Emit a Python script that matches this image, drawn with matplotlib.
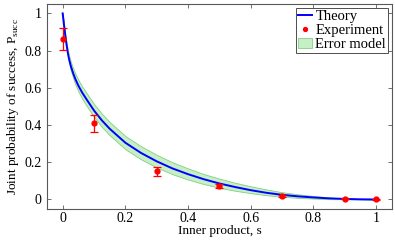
import matplotlib
matplotlib.use("Agg")
import matplotlib.pyplot as plt

# theory curve
s_theory = [0.0, 0.004, 0.008, 0.012, 0.016, 0.02, 0.026, 0.033, 0.041, 0.05, 0.062, 0.075,
            0.1, 0.125, 0.15, 0.2, 0.25, 0.3, 0.35, 0.4, 0.45, 0.5, 0.55, 0.6, 0.65,
            0.7, 0.75, 0.8, 0.85, 0.9, 0.95, 1.0]
p_theory = [1.0, 0.94, 0.885, 0.835, 0.792, 0.757, 0.717, 0.68, 0.645, 0.612, 0.575, 0.541,
            0.478, 0.425, 0.38, 0.305, 0.25, 0.205, 0.167, 0.136, 0.109, 0.086, 0.067,
            0.05, 0.036, 0.025, 0.017, 0.011, 0.006, 0.003, 0.001, 0.0]

# error model band (lower / upper edge)
p_band_lo = [1.0, 0.937, 0.877, 0.822, 0.775, 0.737, 0.694, 0.654, 0.616, 0.581, 0.542, 0.507,
             0.444, 0.39, 0.345, 0.27, 0.216, 0.172, 0.136, 0.107, 0.083, 0.063, 0.047,
             0.034, 0.023, 0.015, 0.009, 0.005, 0.002, 0.001, 0.0, 0.0]
p_band_hi = [1.0, 0.943, 0.893, 0.848, 0.809, 0.777, 0.740, 0.706, 0.674, 0.643, 0.608, 0.575,
             0.513, 0.461, 0.416, 0.341, 0.286, 0.240, 0.200, 0.167, 0.137, 0.112, 0.090,
             0.071, 0.054, 0.039, 0.028, 0.019, 0.011, 0.006, 0.002, 0.0]

# experiment
s_exp = [0.0, 0.1, 0.3, 0.5, 0.7, 0.9, 1.0]
p_exp = [0.863, 0.41, 0.152, 0.073, 0.018, 0.004, 0.0]
p_err = [0.06, 0.045, 0.024, 0.012, 0.005, 0.004, 0.004]

plt.rcParams["font.family"] = ["Liberation Serif", "DejaVu Serif"]
plt.rcParams["font.size"] = 8.5

fig = plt.figure(figsize=(3.95, 2.4), dpi=100)
ax = fig.add_axes([0.119, 0.13, 0.873, 0.853])

band = ax.fill_between(s_theory, p_band_lo, p_band_hi, facecolor="#c6efc6",
                       edgecolor="#80d080", linewidth=0.6, label="Error model")
line, = ax.plot(s_theory, p_theory, color="#0000ff", linewidth=1.4, label="Theory")
ax.errorbar(s_exp, p_exp, yerr=p_err, fmt="none", ecolor="#ff0000",
            elinewidth=0.9, capsize=3, capthick=0.9)
pts, = ax.plot(s_exp, p_exp, "o", color="#ff0000", markersize=3.5,
               linestyle="none", label="Experiment")

ax.set_xlim(-0.05, 1.05)
ax.set_ylim(-0.05, 1.05)
ax.set_xticks([0, 0.2, 0.4, 0.6, 0.8, 1])
ax.set_xticklabels(["0", "0.2", "0.4", "0.6", "0.8", "1"])
ax.set_yticks([0, 0.2, 0.4, 0.6, 0.8, 1])
ax.set_yticklabels(["0", "0.2", "0.4", "0.6", "0.8", "1"])
ax.tick_params(direction="in", top=True, right=True, length=3, width=0.6,
               color="0.35", labelsize=10, pad=4)
ax.tick_params(axis="x", pad=2.5)
for sp in ax.spines.values():
    sp.set_color("0.35")
    sp.set_linewidth(0.8)

ax.set_xlabel("Inner product, s", fontsize=9.5, labelpad=0)
ax.set_ylabel(r"Joint probability of success, P$_\mathregular{succ}$", fontsize=9.5,
              labelpad=2)

leg = ax.legend([line, pts, band], ["Theory", "Experiment", "Error model"],
                loc="upper right", fontsize=10.5, fancybox=False, framealpha=1,
                edgecolor="0.3", borderaxespad=0.25, borderpad=0.15,
                handlelength=1.0, handletextpad=0.2, labelspacing=0.05,
                markerscale=0.8)
leg.get_frame().set_linewidth(0.7)

fig.savefig("out.png", dpi=100)
